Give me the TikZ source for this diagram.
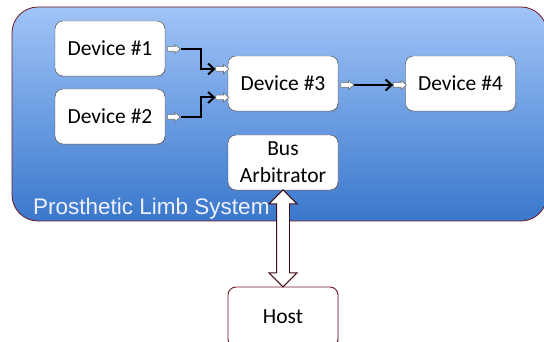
\documentclass[tikz,border=0pt]{standalone}
\usepackage{fontspec}
\setmainfont{Carlito}
\newfontfamily\labelfont{Liberation Sans}
\usetikzlibrary{shapes.arrows,arrows.meta,shadows}

\definecolor{sysTop}{RGB}{160,196,248}
\definecolor{sysBottom}{RGB}{58,120,204}
\definecolor{maroon}{RGB}{110,22,36}

\tikzset{
	device/.style={draw=black!75, fill=white, rounded corners=8pt, minimum width=110pt, minimum height=55pt, inner sep=0pt, align=center, font=\fontsize{21.5}{27}\selectfont, drop shadow={opacity=0.25, shadow xshift=1pt, shadow yshift=-1.5pt}},
	port/.style={shape=single arrow, draw=black!55, fill=white, line width=0.6pt, minimum height=13pt, inner xsep=0pt, inner ysep=2pt, text height=0pt, text depth=0pt, single arrow head extend=2.2pt, single arrow tip angle=80},
	wire/.style={line width=2pt, -{Straight Barb[length=6pt, width=11pt]}},
	link/.style={shape=double arrow, draw=maroon!60!black, fill=white, line width=0.9pt, minimum height=97pt, inner xsep=0pt, inner ysep=6pt, text height=0pt, text depth=0pt, double arrow head extend=7.5pt},
}

\begin{document}
\begin{tikzpicture}[x=1pt, y=1pt]
	\useasboundingbox (0, 0) rectangle (544, 342);
	\shadedraw[top color=sysTop, bottom color=sysBottom, draw=maroon, line width=0.8pt, rounded corners=26pt] (12, 121) rectangle (547, 335);
	\node[anchor=base west, inner sep=0pt, text=white!94!blue, font=\labelfont\fontsize{22.5}{27}\selectfont] (sys) at (33, 127) {Prosthetic Limb System};

	\node[device] (dev1) at (110, 293.5) {Device \#1};
	\node[device] (dev2) at (110, 225.5) {Device \#2};
	\node[device] (dev3) at (283, 258.5) {Device \#3};
	\node[device] (dev4) at (460.5, 258.5) {Device \#4};
	\node[device] (arb) at (283, 179.5) {Bus\\Arbitrator};
	\node[device, draw=maroon, line width=0.9pt, minimum height=60pt] (host) at (283, 25) {Host};

	% in/out ports
	\node[port] (out1) at (172.5, 293) {};
	\node[port] (out2) at (172.5, 225) {};
	\node[port] (in3a) at (221, 273) {};
	\node[port] (in3b) at (221, 244.5) {};
	\node[port] (out3) at (346, 257) {};
	\node[port] (in4) at (398.5, 257) {};

	\draw[wire] (out1.tip) -- ++(20, 0) |- (in3a.tail);
	\draw[wire] (out2.tip) -- ++(20, 0) |- (in3b.tail);
	\draw[wire] (out3.tip) -- (in4.tail);

	\path (arb.south) -- (host.north) node[midway, sloped, link] (bus) {};
\end{tikzpicture}
\end{document}
